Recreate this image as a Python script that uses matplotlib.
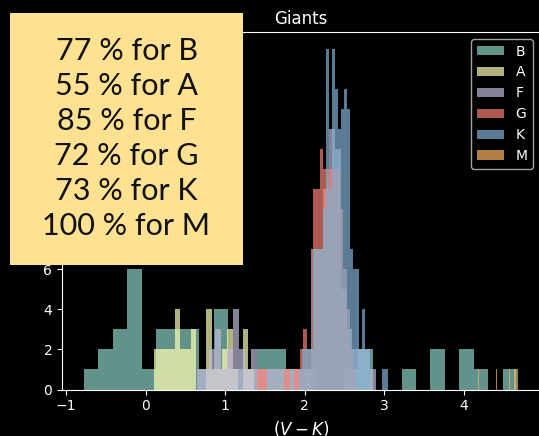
import numpy as np
import matplotlib
matplotlib.use("Agg")
import matplotlib.pyplot as plt
from matplotlib.patches import Rectangle
from matplotlib.ticker import MultipleLocator

# Spectral types, in drawing order
types = ["B", "A", "F", "G", "K", "M"]

# (V-K) range covered by each type's 30-bin histogram
ranges = {
    "B": (-0.78, 4.67),
    "A": (0.104, 2.084),
    "F": (0.65, 2.90),
    "G": (1.40, 2.65),
    "K": (1.93, 3.05),
    "M": (4.18, 4.685),
}

# Star counts per bin
counts_B = [1, 2, 3, 6, 1, 3, 3, 3, 1, 4, 1, 1, 2, 2, 1,
            1, 0, 0, 1, 2, 0, 0, 1, 0, 2, 0, 2, 1, 0, 1]
counts_A = [2, 2, 2, 2, 4, 2, 2, 3, 0, 0, 4, 1, 1, 2, 3,
            1, 0, 3, 1, 0, 0, 0, 0, 0, 0, 0, 0, 0, 0, 1]
counts_F = [1, 1, 2, 3, 1, 2, 4, 2, 1, 2, 1, 1, 1, 1, 1,
            1, 1, 1, 1, 7, 7, 10, 13, 12, 5, 3, 2, 2, 2, 1]
counts_G = [1, 1, 1, 0, 0, 0, 0, 0, 1, 1, 0, 1, 1, 2, 3,
            2, 2, 10, 10, 12, 11, 11, 11, 11, 11, 9, 6, 4, 2, 1]
counts_K = [1, 2, 2, 2, 2, 7, 7, 7, 9, 17, 10, 17, 15, 13, 14,
            15, 14, 7, 6, 6, 2, 4, 2, 2, 0, 0, 0, 0, 1, 1]
counts_M = [1, 0, 0, 0, 0, 0, 0, 0, 0, 0, 0, 0, 0, 1, 0,
            0, 0, 0, 0, 0, 0, 0, 0, 1, 0, 0, 0, 1, 0, 1]

counts = {"B": counts_B, "A": counts_A, "F": counts_F,
          "G": counts_G, "K": counts_K, "M": counts_M}

# Percentages shown in the annotation box
percent = [77, 55, 85, 72, 73, 100]

plt.style.use("dark_background")
W, H = 539, 436
fig = plt.figure(figsize=(W / 100, H / 100), dpi=100)
ax = fig.add_axes([62 / W, (H - 389.5) / H, (540.0 - 62) / W, (389.5 - 32) / H])

for t in types:
    lo, hi = ranges[t]
    c = np.asarray(counts[t], dtype=float)
    edges = np.linspace(lo, hi, len(c) + 1)
    centers = 0.5 * (edges[:-1] + edges[1:])
    ax.hist(centers, bins=edges, weights=c, histtype="stepfilled",
            alpha=0.7, label=t)

ax.set_title("Giants", fontsize=12)
ax.set_xlabel("$(V-K)$", fontsize=12)
ax.yaxis.set_major_locator(MultipleLocator(2))
ax.legend(loc="upper right", fontsize=10)

# Annotation box with the per-type percentages
fig.patches.append(Rectangle((10 / W, 1 - 265 / H), 233 / W, 252 / H,
                             transform=fig.transFigure, facecolor="#ffe291",
                             edgecolor="none", zorder=5))
for i, (p, t) in enumerate(zip(percent, types)):
    fig.text(126.5 / W, 1 - (60 + 35.0 * i) / H, f"{p} % for {t}",
             ha="center", va="baseline", fontsize=22, family="Lato",
             color="#111111", zorder=6)

fig.savefig("out.png", dpi=100)
